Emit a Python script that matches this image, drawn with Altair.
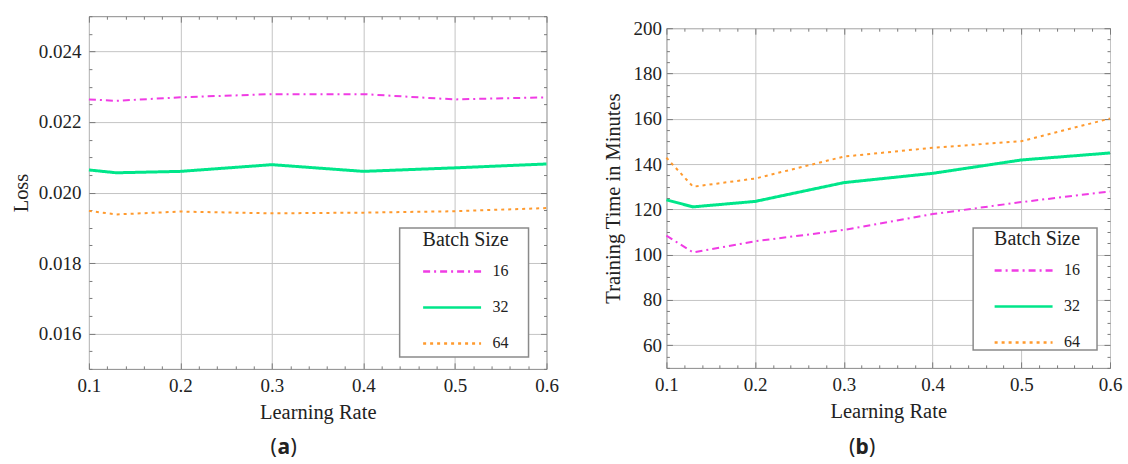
import altair as alt
import pandas as pd

# ---------------- data ----------------
learning_rate = [0.1, 0.13, 0.2, 0.3, 0.4, 0.5, 0.6]
batch_sizes = ["16", "32", "64"]

loss_16 = [0.02264, 0.02260, 0.02270, 0.02279, 0.02279, 0.02264, 0.02270]
loss_32 = [0.02064, 0.02056, 0.02060, 0.02079, 0.02060, 0.02070, 0.02081]
loss_64 = [0.01948, 0.01938, 0.01946, 0.01941, 0.01943, 0.01947, 0.01956]

time_16 = [108.4, 101.0, 105.9, 110.9, 117.9, 123.2, 127.9]
time_32 = [124.2, 121.1, 123.5, 131.8, 135.9, 141.8, 144.9]
time_64 = [142.8, 130.0, 133.6, 143.3, 147.2, 150.1, 160.1]

x_ticks = [0.1, 0.12, 0.14, 0.16, 0.18, 0.2, 0.22, 0.24, 0.26, 0.28, 0.3,
           0.32, 0.34, 0.36, 0.38, 0.4, 0.42, 0.44, 0.46, 0.48, 0.5,
           0.52, 0.54, 0.56, 0.58, 0.6]
loss_ticks = [0.015, 0.0155, 0.016, 0.0165, 0.017, 0.0175, 0.018, 0.0185,
              0.019, 0.0195, 0.02, 0.0205, 0.021, 0.0215, 0.022, 0.0225,
              0.023, 0.0235, 0.024, 0.0245, 0.025]
time_ticks = [50, 55, 60, 65, 70, 75, 80, 85, 90, 95, 100, 105, 110, 115,
              120, 125, 130, 135, 140, 145, 150, 155, 160, 165, 170, 175,
              180, 185, 190, 195, 200]

colors = ["#F03CE4", "#00E68A", "#FF9A2E"]
dashes = [[7, 4, 2, 4], [1, 0], [3, 4]]


def long_df(a, b, c):
    rows = []
    for bs, vals in zip(batch_sizes, [a, b, c]):
        for x, v in zip(learning_rate, vals):
            rows.append({"lr": x, "val": v, "bs": bs})
    return pd.DataFrame(rows)


df_loss = long_df(loss_16, loss_32, loss_64)
df_time = long_df(time_16, time_32, time_64)

SERIF = "Liberation Serif"
TXT = "#222222"
FS = 19
TFS = 20.5

X_MAJOR = "abs(datum.value*10 - round(datum.value*10)) < 0.000001"
LOSS_MAJOR = "abs(datum.value*500 - round(datum.value*500)) < 0.000001"
TIME_MAJOR = "datum.value % 20 == 0"


def tick_axis(orient, values, test, labels_expr=None, title="", grid=False,
              label_pad=16, title_pad=10):
    props = dict(
        orient=orient,
        values=values,
        domain=False,
        tickColor="#7a7a7a",
        tickWidth=1,
        tickSize={"condition": {"test": test, "value": -6}, "value": -3},
        title=title,
    )
    if labels_expr is not None:
        props.update(
            labels=True,
            labelExpr=f"({test}) ? {labels_expr} : ''",
            labelFont=SERIF,
            labelFontSize=FS,
            labelColor=TXT,
            labelPadding=label_pad,
            labelOverlap=False,
            labelFlush=False,
            titleFont=SERIF,
            titleFontSize=TFS,
            titleFontWeight="normal",
            titleColor=TXT,
            titlePadding=title_pad,
        )
    else:
        props.update(labels=False)
    if grid:
        props.update(
            grid=True,
            gridColor="#c4c4c4",
            gridWidth=1,
            gridOpacity={"condition": {"test": test, "value": 1}, "value": 0},
        )
    else:
        props.update(grid=False)
    return alt.Axis(**props)


def panel(df, ydomain, yticks, ytest, yfmt, ytitle, w, h, lx, ly, box, cap,
          capx, capy, ylab_pad, ytitle_pad):
    xscale = alt.Scale(domain=[0.1, 0.6], nice=False, zero=False)
    yscale = alt.Scale(domain=ydomain, nice=False, zero=False)
    legend = alt.Legend(
        title="Batch Size",
        orient="none",
        legendX=lx,
        legendY=ly,
        titleFont=SERIF,
        titleFontSize=20,
        titleFontWeight="normal",
        titleColor=TXT,
        titleAnchor="end",
        titlePadding=2,
        labelFont=SERIF,
        labelFontSize=16,
        labelColor=TXT,
        labelOffset=21,
        symbolType="M-1.611,0H1.611",
        symbolSize=1296,
        symbolStrokeWidth=2.5,
        symbolOffset=29,
        rowPadding=8,
        padding=4,
    )
    base = alt.Chart(df)
    lines = base.mark_line().encode(
        x=alt.X("lr:Q", scale=xscale,
                axis=tick_axis("bottom", x_ticks, X_MAJOR,
                               "format(datum.value, '.1f')", "Learning Rate",
                               grid=True, label_pad=14, title_pad=4)),
        y=alt.Y("val:Q", scale=yscale,
                axis=tick_axis("left", yticks, ytest,
                               f"format(datum.value, '{yfmt}')", ytitle,
                               grid=True, label_pad=ylab_pad,
                               title_pad=ytitle_pad)),
        color=alt.Color("bs:N", scale=alt.Scale(domain=batch_sizes, range=colors),
                        legend=legend),
        strokeDash=alt.StrokeDash("bs:N",
                                  scale=alt.Scale(domain=batch_sizes, range=dashes),
                                  legend=legend),
        strokeWidth=alt.condition("datum.bs == '32'", alt.value(3), alt.value(2)),
    )
    frame_ticks = base.mark_point(opacity=0).encode(
        x=alt.X("lr:Q", scale=xscale, axis=tick_axis("top", x_ticks, X_MAJOR)),
        y=alt.Y("val:Q", scale=yscale, axis=tick_axis("right", yticks, ytest)),
    )
    one = alt.Data(values=[{}])
    legend_box = alt.Chart(one).mark_rect(
        fill="white", stroke="#8a8a8a", strokeWidth=1.5
    ).encode(
        x=alt.value(box[0]), x2=alt.value(box[1]),
        y=alt.value(box[2]), y2=alt.value(box[3]),
    )
    c1 = alt.Chart(one).mark_text(font="Noto Sans", fontSize=21, color=TXT).encode(
        x=alt.value(capx - 10), y=alt.value(capy), text=alt.value("("))
    c2 = alt.Chart(one).mark_text(font="Noto Sans", fontSize=21, fontWeight="bold",
                                  color=TXT).encode(
        x=alt.value(capx), y=alt.value(capy), text=alt.value(cap))
    c3 = alt.Chart(one).mark_text(font="Noto Sans", fontSize=21, color=TXT).encode(
        x=alt.value(capx + 10), y=alt.value(capy), text=alt.value(")"))
    return (
        alt.layer(lines, frame_ticks, legend_box, c1, c2, c3)
        .resolve_axis(x="independent", y="independent")
        .properties(width=w, height=h)
    )


panel_a = panel(df_loss, [0.015, 0.025], loss_ticks, LOSS_MAJOR, ".3f", "Loss",
                458, 353, 311, 210, (311, 440, 212, 341), "a", 195, 432, 14, 7)
panel_b = panel(df_time, [50, 200], time_ticks, TIME_MAJOR, "d",
                "Training Time in Minutes",
                444, 340, 305, 209, (307, 431, 200, 322), "b", 196, 420, 11, 9)

spacer = (
    alt.Chart(alt.Data(values=[{}]))
    .mark_text(text="")
    .properties(width=444, height=12, view=alt.ViewBackground(stroke="transparent"))
)

chart = (
    alt.hconcat(panel_a,
                alt.vconcat(spacer, panel_b, spacing=0, bounds="flush"),
                spacing=44)
    .resolve_scale(color="independent", strokeDash="independent")
    .configure_view(stroke="#8a8a8a", strokeWidth=1)
    .configure_axis(labelFont=SERIF, titleFont=SERIF)
    .configure_legend(labelFont=SERIF, titleFont=SERIF)
    .properties(padding={"left": 10, "top": 6, "right": 5, "bottom": 5},
                background="white")
)

chart.save("out.html", embed_options={"renderer": "svg", "actions": False})
